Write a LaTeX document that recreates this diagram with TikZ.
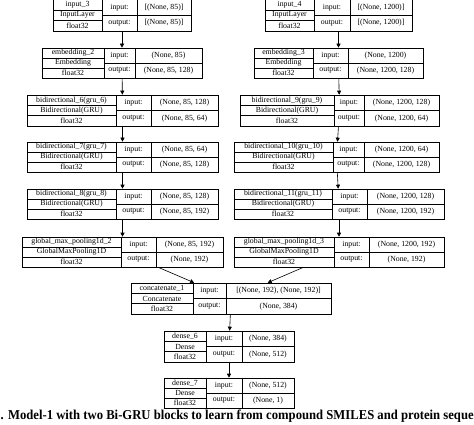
\documentclass[tikz,border=0pt]{standalone}
\usepackage{fontspec}
\usepackage{graphicx}
\setmainfont{Liberation Serif}
\usetikzlibrary{fit,arrows.meta}
\tikzset{
  layerbox/.style={draw, line width=0.6pt, inner sep=0pt, fit={#1}},
  cell/.style={draw, line width=0.6pt},
  celltext/.style={inner sep=0pt, font=\fontsize{7.8}{9}\selectfont},
  flow/.style={line width=0.6pt, -{Triangle[length=4pt,width=4pt]}},
  caption/.style={inner sep=0pt, anchor=base west, font=\fontsize{13.6}{15}\selectfont\bfseries}
}
\begin{document}
\begin{tikzpicture}[x=1pt,y=-1pt]
\useasboundingbox (0,0) rectangle (474,425);
\foreach \n/\xl/\xa/\xb/\xr/\yt/\yb/\ta/\tb/\ti/\to in {
  in3/53/102/137/191/-0.5/31/{input\_3}/{InputLayer}/{[(None, 85)]}/{[(None, 85)]},
  emb2/42/104/135/202/48/78/{embedding\_2}/{Embedding}/{(None, 85)}/{(None, 85, 128)},
  bi6/27/116/151/218/95/126/{bidirectional\_6(gru\_6)}/{Bidirectional(GRU)}/{(None, 85, 128)}/{(None, 85, 64)},
  bi7/27/116/151/218/142/172/{bidirectional\_7(gru\_7)}/{Bidirectional(GRU)}/{(None, 85, 64)}/{(None, 85, 128)},
  bi8/27/116/151/218/189/219/{bidirectional\_8(gru\_8)}/{Bidirectional(GRU)}/{(None, 85, 128)}/{(None, 85, 192)},
  gmp2/22/121/156/223/237/267/{global\_max\_pooling1d\_2}/{GlobalMaxPooling1D}/{(None, 85, 192)}/{(None, 192)},
  in4/265/314/350/412/-0.5/31/{input\_4}/{InputLayer}/{[(None, 1200)]}/{[(None, 1200)]},
  emb3/254/313/348/423/48/78/{embedding\_3}/{Embedding}/{(None, 1200)}/{(None, 1200, 128)},
  bi9/240/334/364/439/95/126/{bidirectional\_9(gru\_9)}/{Bidirectional(GRU)}/{(None, 1200, 128)}/{(None, 1200, 64)},
  bi10/234/333/364/439/142/172/{bidirectional\_10(gru\_10)}/{Bidirectional(GRU)}/{(None, 1200, 64)}/{(None, 1200, 128)},
  bi11/234/332/367/444/189/219/{bidirectional\_11(gru\_11)}/{Bidirectional(GRU)}/{(None, 1200, 128)}/{(None, 1200, 192)},
  gmp3/234/334/369/444/237/267/{global\_max\_pooling1d\_3}/{GlobalMaxPooling1D}/{(None, 1200, 192)}/{(None, 192)},
  cat/131/193/226/331/283/314/{concatenate\_1}/{Concatenate}/{[(None, 192), (None, 192)]}/{(None, 384)},
  d6/164/206/242/294/331/362/{dense\_6}/{Dense}/{(None, 384)}/{(None, 512)},
  d7/164/206/242/294/378/408/{dense\_7}/{Dense}/{(None, 512)}/{(None, 1)}
}{
  \pgfmathsetmacro\ya{\yt+(\yb-\yt)/3}
  \pgfmathsetmacro\yc{\yt+2*(\yb-\yt)/3}
  \pgfmathsetmacro\ym{(\yt+\yb)/2}
  \node[layerbox={(\xl,\yt)(\xr,\yb)}] (\n) {};
  \draw[cell] (\xa,\yt) -- (\xa,\yb) (\xb,\yt) -- (\xb,\yb)
              (\xl,\ya) -- (\xa,\ya) (\xl,\yc) -- (\xa,\yc)
              (\xa,\ym) -- (\xr,\ym);
  \node[celltext] (\n-t1) at ({(\xl+\xa)/2},{(\yt+\ya)/2}) {\ta};
  \node[celltext] (\n-t2) at ({(\xl+\xa)/2},{(\ya+\yc)/2}) {\tb};
  \node[celltext] (\n-t3) at ({(\xl+\xa)/2},{(\yc+\yb)/2}) {float32};
  \node[celltext] (\n-l1) at ({(\xa+\xb)/2},{(\yt+\ym)/2}) {input:};
  \node[celltext] (\n-l2) at ({(\xa+\xb)/2},{(\ym+\yb)/2}) {output:};
  \node[celltext] (\n-v1) at ({(\xb+\xr)/2},{(\yt+\ym)/2}) {\ti};
  \node[celltext] (\n-v2) at ({(\xb+\xr)/2},{(\ym+\yb)/2}) {\to};
}
\draw[flow] (in3) -- (emb2);
\draw[flow] (emb2) -- (bi6);
\draw[flow] (bi6) -- (bi7);
\draw[flow] (bi7) -- (bi8);
\draw[flow] (bi8) -- (gmp2);
\draw[flow] (in4) -- (emb3);
\draw[flow] (emb3) -- (bi9);
\draw[flow] (bi9) -- (bi10);
\draw[flow] (bi10) -- (bi11);
\draw[flow] (bi11) -- (gmp3);
\draw[flow] (gmp2) -- (cat);
\draw[flow] (gmp3) -- (cat);
\draw[flow] (cat) -- (d6);
\draw[flow] (d6) -- (d7);
\node[caption] (cap) at (0.5,419) {\resizebox{473pt}{\height}{. Model-1 with two Bi-GRU blocks to learn from compound SMILES and protein seque}};
\end{tikzpicture}
\end{document}
